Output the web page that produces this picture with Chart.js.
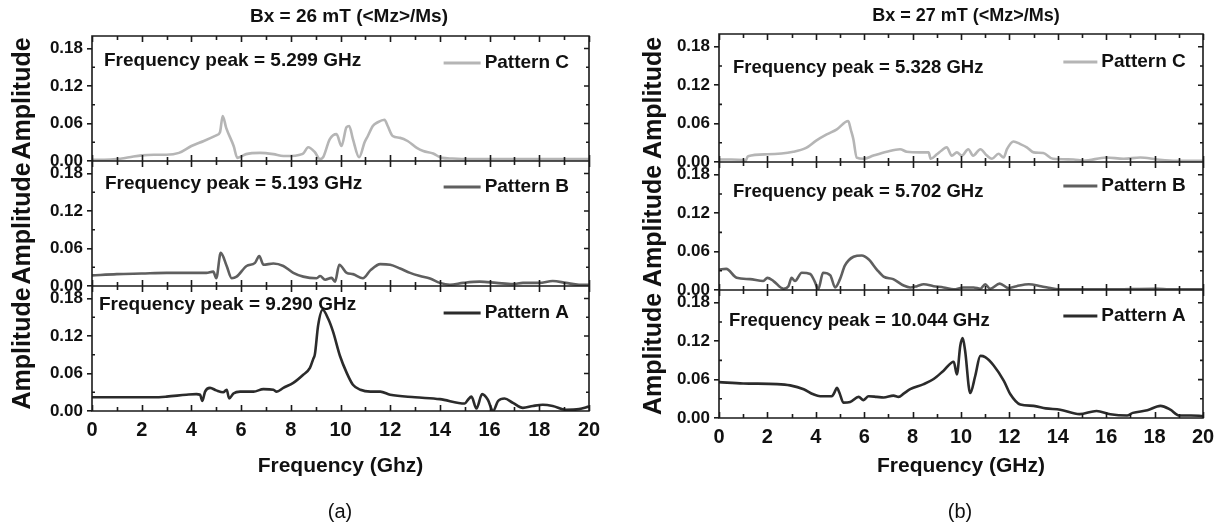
<!DOCTYPE html>
<html><head><meta charset="utf-8">
<script src="https://cdn.jsdelivr.net/npm/chart.js@4"></script>
<style>
body{margin:0;background:#fff;width:1223px;height:529px;overflow:hidden;position:relative;font-family:"Liberation Sans",Arial,sans-serif;color:#111}
canvas{position:absolute;top:0}
.t{position:absolute;white-space:nowrap;transform:translate(-50%,-50%);line-height:1}
</style></head><body>
<canvas id="ca" width="611" height="529" style="left:0px"></canvas>
<canvas id="cb" width="611" height="529" style="left:612px"></canvas>
<div class="t" id="ta" style="left:349px;top:15px;font-weight:bold;font-size:19px"></div>
<div class="t" id="tb" style="left:966px;top:15px;font-weight:bold;font-size:18px"></div>
<div class="t" id="la" style="left:340px;top:511px;font-size:20px"></div>
<div class="t" id="lb" style="left:960px;top:511px;font-size:20px"></div>
<script>
// ---------- data ----------
const panelTitles = ['Bx = 26 mT (<Mz>/Ms)', 'Bx = 27 mT (<Mz>/Ms)'];
const panelLetters = ['(a)', '(b)'];
const xTitles = ['Frequency (Ghz)', 'Frequency (GHz)'];
const seriesNames = ['Pattern A', 'Pattern B', 'Pattern C'];
const yTicks = [0, 0.06, 0.12, 0.18];
const yMinorTicks = [0.03, 0.09, 0.15];
const yLabel = 'Amplitude';
const peaksA = ['Frequency peak = 9.290 GHz', 'Frequency peak = 5.193 GHz', 'Frequency peak = 5.299 GHz'];
const peaksB = ['Frequency peak = 10.044 GHz', 'Frequency peak = 5.702 GHz', 'Frequency peak = 5.328 GHz'];

// panel (a)
const aC_f = [0,0.5,1,1.5,2,2.5,3,3.5,4.0,4.5,5.0,5.15,5.26,5.4,5.7,5.85,6.2,6.76,7.3,7.7,8.0,8.37,8.5,8.7,8.97,9.17,9.3,9.57,9.84,10.04,10.24,10.35,10.5,10.75,10.97,11.1,11.3,11.5,11.77,11.9,12.1,12.4,12.7,13.07,13.33,13.73,14.07,14.5,15,16,17,18,19,20];
const aC_v = [0.002,0.002,0.003,0.006,0.009,0.01,0.01,0.013,0.024,0.032,0.041,0.046,0.072,0.053,0.024,0.005,0.011,0.013,0.011,0.008,0.008,0.01,0.012,0.022,0.014,0.003,0.006,0.035,0.043,0.024,0.054,0.056,0.035,0.006,0.03,0.04,0.056,0.062,0.066,0.056,0.04,0.037,0.032,0.021,0.016,0.012,0.005,0.004,0.003,0.003,0.003,0.003,0.003,0.003];
const aB_f = [0,1,2,3,4,4.6,4.88,5.0,5.18,5.42,5.62,5.82,6.22,6.56,6.73,6.9,7.3,7.7,8.1,8.5,9.04,9.18,9.38,9.64,9.78,9.95,10.25,10.5,10.9,11.2,11.6,12.0,12.4,12.8,13.2,13.6,14.0,14.4,14.94,15.6,16.27,16.94,17.34,18,18.54,19.07,19.6,20];
const aB_v = [0.017,0.019,0.02,0.021,0.021,0.021,0.023,0.0125,0.053,0.032,0.0125,0.015,0.032,0.037,0.048,0.034,0.036,0.032,0.021,0.015,0.0125,0.016,0.01,0.013,0.007,0.034,0.021,0.019,0.0125,0.025,0.035,0.034,0.028,0.021,0.016,0.012,0.005,0.002,0.005,0.007,0.005,0.003,0.005,0.005,0.008,0.005,0.002,0.002];
const aA_f = [0,1,2,2.5,3.0,3.8,4.2,4.35,4.44,4.55,4.75,5.0,5.28,5.42,5.52,5.69,5.96,6.5,6.9,7.3,7.43,7.7,8.1,8.5,8.77,8.9,8.97,9.1,9.28,9.5,9.7,9.98,10.25,10.5,10.8,11.2,11.6,12.0,13.0,14.0,15.0,15.13,15.27,15.47,15.7,15.93,16.14,16.34,16.6,16.94,17.34,17.74,18.14,18.54,19.07,19.6,20];
const aA_v = [0.022,0.022,0.022,0.022,0.023,0.026,0.027,0.026,0.016,0.031,0.037,0.033,0.03,0.034,0.02,0.028,0.031,0.031,0.035,0.034,0.031,0.037,0.045,0.058,0.069,0.083,0.091,0.137,0.162,0.148,0.127,0.088,0.061,0.042,0.034,0.031,0.031,0.026,0.022,0.019,0.012,0.018,0.023,0.004,0.027,0.018,0.0,0.016,0.02,0.013,0.005,0.008,0.01,0.008,0.002,0.003,0.007];

// panel (b)
const bC_f = [0,0.5,1.0,1.07,1.2,2.0,3.07,3.6,4.0,4.45,4.87,5.34,5.45,5.55,5.69,5.97,6.38,6.93,7.48,7.76,8.3,8.66,8.75,9.0,9.2,9.41,9.62,9.83,10.03,10.3,10.5,10.8,11.07,11.28,11.55,11.76,11.9,12.17,12.45,12.72,13.0,13.4,13.8,14.65,15.07,16.0,16.72,17.41,18.1,18.9,20];
const bC_v = [0.004,0.004,0.003,0.0,0.009,0.012,0.016,0.022,0.033,0.043,0.051,0.064,0.05,0.036,0.007,0.005,0.01,0.016,0.02,0.016,0.015,0.015,0.005,0.012,0.018,0.023,0.01,0.015,0.01,0.02,0.01,0.02,0.01,0.005,0.013,0.007,0.02,0.032,0.028,0.023,0.015,0.014,0.005,0.004,0.002,0.007,0.005,0.007,0.004,0.002,0.002];
const bB_f = [0,0.3,0.73,1.28,1.83,2.0,2.25,2.66,2.87,3.0,3.14,3.42,3.77,3.97,4.1,4.3,4.6,4.8,5.0,5.2,5.56,5.9,6.18,6.52,6.8,7.2,7.63,7.9,8.18,8.46,8.87,9.28,9.7,10.1,10.52,10.8,11.0,11.2,11.6,11.96,12.3,12.8,13.3,13.7,14.0,16.0,18.1,18.6,20];
const bB_v = [0.032,0.033,0.019,0.017,0.014,0.019,0.014,0.002,0.006,0.019,0.014,0.027,0.025,0.012,0.001,0.027,0.023,0.004,0.017,0.038,0.052,0.054,0.048,0.032,0.021,0.017,0.007,0.004,0.006,0.009,0.006,0.004,0.001,0.004,0.004,0.002,0.009,0.002,0.010,0.003,0.006,0.009,0.006,0.003,0.001,0.001,0.002,0.001,0.001];
const bA_f = [0,1.0,2.4,2.94,3.5,3.9,4.18,4.66,4.76,4.87,4.98,5.14,5.42,5.77,5.97,6.18,6.52,6.8,7.21,7.42,7.63,7.9,8.46,8.87,9.28,9.7,9.83,9.97,10.07,10.17,10.38,10.59,10.8,11.0,11.35,11.77,12.04,12.45,13.0,13.5,14.1,14.9,15.6,16.17,16.86,17.1,17.7,18.24,18.65,19.0,19.5,20];
const bA_v = [0.056,0.054,0.053,0.051,0.045,0.037,0.034,0.034,0.039,0.047,0.039,0.024,0.025,0.033,0.028,0.034,0.033,0.032,0.035,0.033,0.038,0.045,0.053,0.061,0.074,0.088,0.068,0.113,0.125,0.105,0.039,0.066,0.097,0.095,0.082,0.058,0.037,0.021,0.019,0.015,0.013,0.006,0.011,0.006,0.004,0.008,0.012,0.019,0.013,0.004,0.004,0.003];

// ---------- drawing ----------
const FONT = '"Liberation Sans", Arial, sans-serif';
const colors = ['#2b2b2b', '#5f5f5f', '#b5b5b5'];
const ids = ['yA', 'yB', 'yC'];

document.getElementById('ta').textContent = panelTitles[0];
document.getElementById('tb').textContent = panelTitles[1];
document.getElementById('la').textContent = panelLetters[0];
document.getElementById('lb').textContent = panelLetters[1];

const decor = {
  id: 'decor',
  afterDatasetsDraw(chart, args, o) {
    const ctx = chart.ctx, xs = chart.scales.x, ca = chart.chartArea;
    ctx.save();
    ctx.strokeStyle = '#1a1a1a';
    ctx.lineWidth = 1.6;
    ctx.beginPath();
    ctx.rect(ca.left, ca.top, ca.right - ca.left, ca.bottom - ca.top);
    ids.forEach(id => {
      const s = chart.scales[id];
      ctx.moveTo(ca.left, s.bottom); ctx.lineTo(ca.right, s.bottom);
      for (let f = xs.min; f <= xs.max; f += 1) {
        const px = Math.round(xs.getPixelForValue(f)) + 0.5;
        const len = (f % 2 === 0) ? 6 : 4;
        ctx.moveTo(px, s.bottom); ctx.lineTo(px, s.bottom - len);
        ctx.moveTo(px, s.top); ctx.lineTo(px, s.top + len);
      }
      yTicks.forEach(v => {
        const py = s.getPixelForValue(v);
        ctx.moveTo(ca.right, py); ctx.lineTo(ca.right - 5, py);
      });
      yMinorTicks.forEach(v => {
        const py = s.getPixelForValue(v);
        ctx.moveTo(ca.right, py); ctx.lineTo(ca.right - 3, py);
        ctx.moveTo(ca.left, py); ctx.lineTo(ca.left + 3, py);
      });
    });
    ctx.stroke();

    ctx.fillStyle = '#111';
    ctx.textBaseline = 'middle';
    ctx.textAlign = 'left';
    ids.forEach((id, i) => {
      const s = chart.scales[id];
      ctx.font = 'bold ' + o.peakSize + 'px ' + FONT;
      ctx.fillText(o.peaks[i], ca.left + o.peakDx[i], s.top + o.peakDy[i]);
      const tx = ca.left + o.legFrac * (ca.right - ca.left);
      const ty = s.top + o.legDy[i];
      ctx.strokeStyle = colors[i];
      ctx.lineWidth = 2.8;
      ctx.beginPath();
      ctx.moveTo(tx - 4 - o.legLen, ty); ctx.lineTo(tx - 4, ty);
      ctx.stroke();
      ctx.font = 'bold ' + o.legSize + 'px ' + FONT;
      ctx.fillText(seriesNames[i], tx, ty);
    });
    ctx.restore();
  }
};

function yAxis(L) {
  return {
    type: 'linear', position: 'left', stack: 'p', stackWeight: 1, min: 0, max: 0.2,
    afterBuildTicks: s => { s.ticks = yTicks.map(v => ({ value: v })); },
    afterFit: s => { s.width = L.axisW; },
    ticks: { callback: v => Number(v).toFixed(2), font: { family: FONT, size: 17, weight: 'bold' }, color: '#111', padding: 4, autoSkip: false },
    grid: { drawOnChartArea: false, drawTicks: true, tickLength: 5, color: '#1a1a1a', lineWidth: 1.6 },
    border: { display: false },
    title: { display: true, text: yLabel, font: { family: FONT, size: 25, weight: 'bold' }, color: '#111', padding: { top: L.titlePad, bottom: 0 } }
  };
}

function makePanel(canvasId, series, L) {
  const datasets = series.map((sr, i) => ({
    label: seriesNames[i],
    data: sr[0].map((f, k) => ({ x: f, y: sr[1][k] })),
    yAxisID: ids[i],
    borderColor: colors[i],
    borderWidth: 2.6,
    pointRadius: 0,
    cubicInterpolationMode: 'monotone',
    fill: false
  }));
  const scales = {
    x: {
      type: 'linear', position: 'bottom', min: 0, max: 20,
      ticks: { stepSize: 2, font: { family: FONT, size: 20, weight: 'bold' }, color: '#111', padding: L.xTickPad, maxRotation: 0, autoSkip: false },
      grid: { display: false, drawTicks: false },
      border: { display: false },
      afterFit: s => { s.height = L.xAxisH; },
      title: { display: true, text: L.xTitle, font: { family: FONT, size: 21, weight: 'bold' }, color: '#111', padding: { top: 0, bottom: 50 } }
    }
  };
  ids.forEach(id => { scales[id] = yAxis(L); });
  return new Chart(document.getElementById(canvasId), {
    type: 'line',
    data: { datasets },
    options: {
      responsive: false, animation: false,
      layout: { padding: { left: 0, top: L.top, right: L.right, bottom: 0 } },
      plugins: { legend: { display: false }, tooltip: { enabled: false },
        decor: { peaks: L.peaks, peakDx: L.peakDx, peakDy: L.peakDy, peakSize: L.peakSize, legFrac: 0.79, legDy: L.legDy, legLen: L.legLen, legSize: 19 } },
      scales
    },
    plugins: [decor]
  });
}

makePanel('ca', [[aA_f, aA_v], [aB_f, aB_v], [aC_f, aC_v]], {
  axisW: 92, top: 36, right: 22, xAxisH: 118, xTickPad: 7, titlePad: 8, xTitle: xTitles[0],
  peaks: peaksA, peakDx: [7, 13, 12], peakDy: [19, 23, 25], peakSize: 19, legDy: [27, 26, 27], legLen: 37
});
makePanel('cb', [[bA_f, bA_v], [bB_f, bB_v], [bC_f, bC_v]], {
  axisW: 107, top: 34, right: 20, xAxisH: 111, xTickPad: 7, titlePad: 27, xTitle: xTitles[1],
  peaks: peaksB, peakDx: [10, 14, 14], peakDy: [31, 30, 34], peakSize: 18.5, legDy: [26, 24, 28], legLen: 34
});
</script>
</body></html>
